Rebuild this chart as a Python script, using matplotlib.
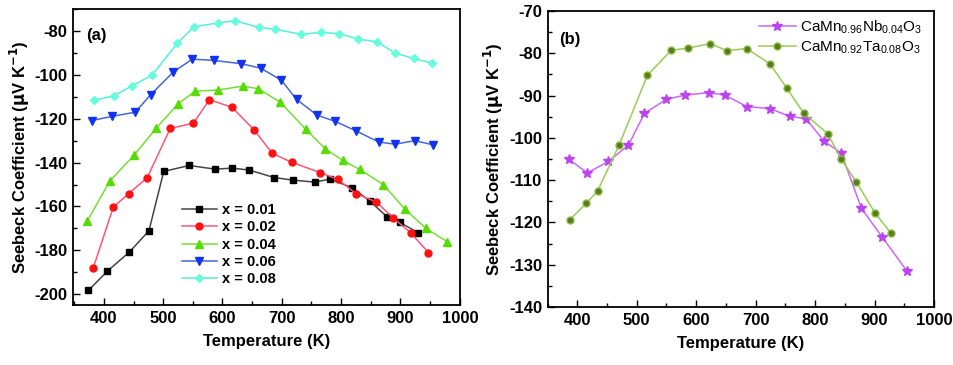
import numpy as np
import matplotlib
matplotlib.use('Agg')
import matplotlib.pyplot as plt
from matplotlib.ticker import MultipleLocator

plt.rcParams['font.family'] = ['Liberation Sans', 'DejaVu Sans']
plt.rcParams['mathtext.fontset'] = 'custom'
plt.rcParams['mathtext.rm'] = 'Liberation Sans'
plt.rcParams['axes.unicode_minus'] = False

# ---- panel (a): CaMn1-xNbxO3 ----
t_001 = [374, 406, 443, 476, 501, 544, 588, 616, 645, 687, 719, 756, 781, 819, 849, 878, 899, 930]
s_001 = [-198.3, -189.5, -180.8, -171.1, -144.0, -141.3, -143.0, -142.5, -143.4, -146.8, -148.0,
         -148.9, -147.5, -151.5, -157.7, -164.9, -167.3, -172.0]
t_002 = [382, 416, 442, 473, 512, 551, 578, 616, 653, 684, 717, 765, 795, 825, 859, 888, 917, 947]
s_002 = [-188.1, -160.3, -154.1, -146.9, -124.4, -122.0, -111.3, -114.8, -125.0, -135.8, -139.9,
         -144.6, -147.7, -154.2, -157.9, -165.3, -172.0, -181.0]
t_004 = [372, 410, 451, 488, 525, 554, 593, 634, 660, 697, 740, 773, 803, 831, 871, 907, 943, 979]
s_004 = [-166.7, -148.4, -136.6, -124.4, -113.2, -107.4, -106.9, -105.1, -106.3, -112.4, -124.7,
         -133.7, -139.0, -143.1, -150.0, -161.1, -170.0, -176.1]
t_006 = [380, 414, 453, 479, 517, 549, 586, 632, 665, 699, 725, 759, 790, 825, 863, 891, 924, 955]
s_006 = [-120.8, -118.9, -117.0, -109.0, -98.7, -92.8, -93.4, -94.9, -97.0, -102.4, -111.2,
         -118.3, -121.2, -125.5, -130.6, -131.6, -130.0, -131.9]
t_008 = [384, 417, 448, 481, 524, 552, 593, 621, 661, 689, 733, 766, 797, 829, 860, 890, 922, 953]
s_008 = [-111.6, -109.5, -104.9, -100.2, -85.5, -78.0, -76.3, -75.3, -78.3, -79.2, -81.5,
         -80.6, -81.2, -83.7, -84.9, -89.9, -92.5, -94.6]

# ---- panel (b) ----
t_nb = [386, 417, 452, 486, 513, 550, 581, 621, 648, 685, 724, 757, 785, 815, 844, 878, 913, 955]
s_nb = [-105.1, -108.3, -105.6, -101.7, -94.2, -90.9, -89.9, -89.3, -89.9, -92.6, -93.1,
        -94.9, -95.5, -100.8, -103.6, -116.7, -123.5, -131.6]
t_ta = [387, 415, 434, 470, 518, 558, 586, 624, 651, 685, 724, 752, 781, 821, 844, 869, 901, 928]
s_ta = [-119.4, -115.5, -112.6, -101.8, -85.2, -79.3, -78.8, -77.7, -79.4, -78.9, -82.5,
        -88.2, -94.2, -99.0, -105.0, -110.4, -117.8, -122.6]

labels_a = ['x = 0.01', 'x = 0.02', 'x = 0.04', 'x = 0.06', 'x = 0.08']
labels_b = [r'CaMn$_{0.96}$Nb$_{0.04}$O$_{3}$', r'CaMn$_{0.92}$Ta$_{0.08}$O$_{3}$']

fig = plt.figure(figsize=(9.54, 3.65), dpi=100)
ax1 = fig.add_axes([0.0765, 0.164, 0.4055, 0.811])
ax2 = fig.add_axes([0.574, 0.159, 0.405, 0.811])

series_a = [
    (t_001, s_001, 's', 'black', '#444444', 4.5),
    (t_002, s_002, 'o', '#ff1111', '#ff5577', 5),
    (t_004, s_004, '^', '#55dd00', '#77dd33', 5.5),
    (t_006, s_006, 'v', '#1133ee', '#4466dd', 5.5),
    (t_008, s_008, 'D', '#66ffdd', '#55eedd', 4.2),
]
for (t, s, mk, mc, lc, ms), lab in zip(series_a, labels_a):
    ax1.plot(t, s, color=lc, lw=1.1, marker=mk, ms=ms, mfc=mc, mec=mc, label=lab)

ax2.plot(t_nb, s_nb, color='#cc66ff', lw=1.1, marker='*', ms=7.5, mfc='#bb44ee', mec='#bb44ee',
         label=labels_b[0])
ax2.plot(t_ta, s_ta, color='#99cc55', lw=1.1, marker='o', ms=5, mfc='#5a7a1e', mec='#88bb44',
         label=labels_b[1])

ax1.set_xlim(348, 1000)
ax1.set_ylim(-205, -70)
ax1.xaxis.set_major_locator(MultipleLocator(100))
ax1.xaxis.set_minor_locator(MultipleLocator(50))
ax1.yaxis.set_minor_locator(MultipleLocator(10))
ax1.set_yticks([-200, -180, -160, -140, -120, -100, -80])

ax2.set_xlim(350, 1000)
ax2.set_ylim(-140, -70)
ax2.xaxis.set_major_locator(MultipleLocator(100))
ax2.xaxis.set_minor_locator(MultipleLocator(50))
ax2.yaxis.set_major_locator(MultipleLocator(10))
ax2.yaxis.set_minor_locator(MultipleLocator(5))

for ax in (ax1, ax2):
    for sp in ax.spines.values():
        sp.set_linewidth(1.3)
    ax.tick_params(which='both', direction='in', width=1.0)
    ax.tick_params(which='major', length=5, labelsize=12, pad=4)
    ax.tick_params(which='minor', length=3)
    for lb in ax.get_xticklabels() + ax.get_yticklabels():
        lb.set_fontweight('bold')
    ax.set_xlabel('Temperature (K)', fontsize=12, fontweight='bold', labelpad=6)
    ax.set_ylabel(r'Seebeck Coefficient ($\mathbf{\mu}$V K$^{\mathbf{-1}}$)', fontsize=12,
                  fontweight='bold', labelpad=2)

ax1.text(0.035, 0.91, '(a)', transform=ax1.transAxes, fontsize=12, fontweight='bold',
         va='center')
ax2.text(0.03, 0.905, '(b)', transform=ax2.transAxes, fontsize=12, fontweight='bold',
         va='center')

leg1 = ax1.legend(loc='lower left', bbox_to_anchor=(0.255, 0.03), frameon=False,
                  prop={'size': 10.5, 'weight': 'bold'}, handlelength=2.4,
                  labelspacing=0.22, handletextpad=0.35, borderpad=0.2)
leg2 = ax2.legend(loc='upper right', bbox_to_anchor=(0.99, 1.0), frameon=False,
                  prop={'size': 11}, handlelength=2.4, labelspacing=0.2,
                  handletextpad=0.3, borderpad=0.3, borderaxespad=0.2)

fig.savefig('out.png', dpi=100)
